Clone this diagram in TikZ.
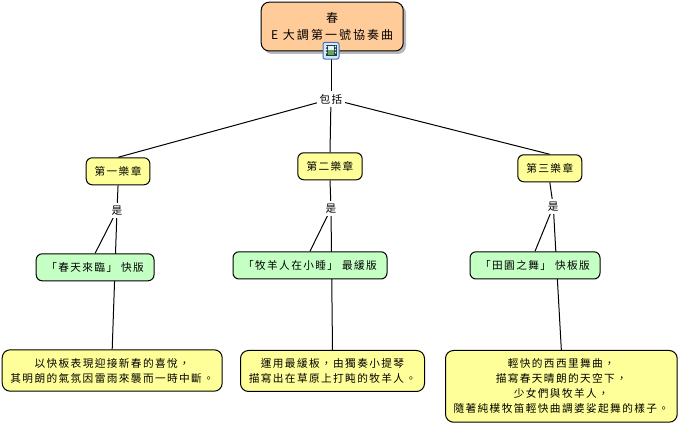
\documentclass[tikz,border=0pt]{standalone}
\usepackage{fontspec}
\usetikzlibrary{backgrounds}
\newfontfamily\cjk[LetterSpace=13]{Noto Sans CJK TC}
\newfontfamily\cjkroot[LetterSpace=17]{Noto Sans CJK TC}
\definecolor{rootfill}{HTML}{FFCC99}
\definecolor{notefill}{HTML}{FFFF99}
\definecolor{actfill}{HTML}{C4FFC4}
\definecolor{shadowc}{HTML}{B8B8B8}
\definecolor{iconblue}{HTML}{3F74C0}
\definecolor{iconbg}{HTML}{D6E6F8}
\definecolor{filmgreen}{HTML}{5FA85F}
\definecolor{filmdark}{HTML}{1F3F3F}
\tikzset{
  x=0.75pt,y=-0.75pt,
  every node/.style={font=\cjk\fontsize{8pt}{11.3pt}\selectfont,text=black,align=center,inner sep=0pt},
  boxbase/.style={draw=black,line width=0.75pt,rounded corners=5pt,anchor=north west},
  keyword/.style={fill=white,inner xsep=2pt,inner ysep=2.2pt},
  link/.style={draw=black,line width=0.75pt},
}
\newcommand{\boxat}[8]{% name, x1,y1,x2,y2, fill, text, corner
  \pgfmathsetmacro{\bw}{(#4-#2)*0.75}\pgfmathsetmacro{\bh}{(#5-#3)*0.75}
  \node[boxbase,fill=#6,rounded corners=#8,minimum width=\bw pt,minimum height=\bh pt] (#1) at (#2,#3) {#7};
}
\begin{document}
\begin{tikzpicture}
\useasboundingbox (0,0) rectangle (679,423);
% root shadow
\fill[shadowc,rounded corners=6pt] (264,5) rectangle (406,54);
\boxat{root}{260.7}{1.7}{402.7}{50.5}{rootfill}{\cjkroot\fontsize{9pt}{12pt}\selectfont 春\\[1pt]\cjkroot\fontsize{9pt}{12pt}\selectfont E 大調第一號協奏曲}{6pt}
% icon
\node[draw=iconblue,line width=0.75pt,fill=iconbg,rounded corners=1.5pt,minimum width=12pt,minimum height=12.5pt] (icon) at (331,50.7) {};
\fill[filmdark] (325.5,45) rectangle (336.5,56.5);
\fill[white] (326,46) rectangle (327.2,47.5) (326,49) rectangle (327.2,50.5) (326,52) rectangle (327.2,53.5) (334.8,46) rectangle (336,47.5) (334.8,49) rectangle (336,50.5) (334.8,52) rectangle (336,53.5);
\fill[filmgreen] (328.3,50) rectangle (333.7,55.5);
\fill[iconbg!60!white] (328.3,46) rectangle (333.7,50);
% keywords
\node[keyword] (inc) at (331,99) {包括};
\boxat{a1}{85.7}{157.3}{149.4}{184.3}{notefill}{第一樂章}{4.5pt}
\boxat{a2}{297.3}{152.3}{361.7}{179.3}{notefill}{第二樂章}{4.5pt}
\boxat{a3}{517.3}{154.3}{581.3}{181.3}{notefill}{第三樂章}{4.5pt}
\node[keyword] (k1) at (117,210.5) {是};
\node[keyword] (k2) at (331,208.5) {是};
\node[keyword] (k3) at (553.3,206.5) {是};
\boxat{g1}{35.7}{253.3}{153.5}{280.3}{actfill}{「春天來臨」\hspace{3pt}快版}{4.5pt}
\boxat{g2}{232.5}{251.3}{386.5}{278.5}{actfill}{「牧羊人在小睡」\hspace{3pt}最緩版}{4.5pt}
\boxat{g3}{469.5}{251.3}{599.5}{278.5}{actfill}{「田園之舞」\hspace{3pt}快板版}{4.5pt}
\boxat{n1}{1.7}{349.3}{221.7}{390.7}{notefill}{以快板表現迎接新春的喜悅，\\其明朗的氣氛因雷雨來襲而一時中斷。}{6pt}
\boxat{n2}{240}{350}{424}{391}{notefill}{運用最緩板，由獨奏小提琴\\描寫出在草原上打盹的牧羊人。}{6pt}
\boxat{n3}{445}{350}{676.7}{421.7}{notefill}{輕快的西西里舞曲，\\描寫春天晴朗的天空下，\\少女們與牧羊人，\\隨著純樸牧笛輕快曲調婆娑起舞的樣子。}{6pt}
\begin{scope}[on background layer]
  \fill[white] (0,0) rectangle (679,423);
  \draw[link] (icon.center) -- (inc.center);
  \draw[link] (inc.center) -- (a1.north);
  \draw[link] (inc.center) -- (a2.north);
  \draw[link] (inc.center) -- (a3.north);
  \draw[link] (a1.south) -- (k1.center);
  \draw[link] (a2.south) -- (k2.center);
  \draw[link] (a3.south) -- (k3.center);
  \draw[link] (k1.center) -- (g1.north);
  \draw[link] (k2.center) -- (g2.north);
  \draw[link] (k3.center) -- (g3.north);
  \draw[link] (k1.center) -- (n1.north);
  \draw[link] (k2.center) -- (n2.north);
  \draw[link] (k3.center) -- (n3.north);
\end{scope}
\end{tikzpicture}
\end{document}
